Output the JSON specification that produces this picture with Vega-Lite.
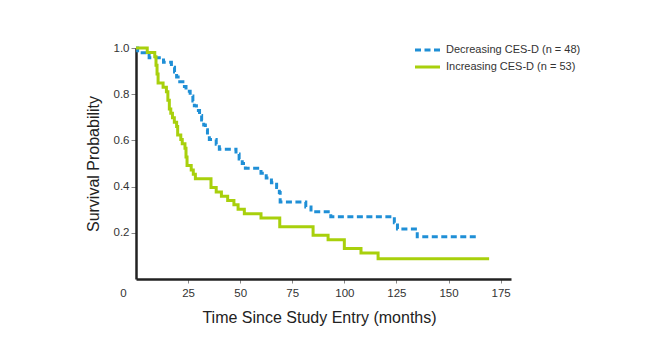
{
  "$schema": "https://vega.github.io/schema/vega-lite/v6.json",
  "width": 375,
  "height": 231,
  "autosize": "none",
  "padding": {"left": 136, "top": 48, "right": 145, "bottom": 83},
  "background": "white",
  "config": {
    "view": {"stroke": null},
    "font": "Liberation Sans",
    "axis": {"grid": false, "labelFont": "Liberation Sans", "titleFont": "Liberation Sans", "labelColor": "#333333", "titleColor": "#222222", "labelFontSize": 11.5, "titleFontSize": 16, "titleFontWeight": "normal", "domainColor": "#222222", "domainWidth": 2.5, "tickColor": "#888888", "tickWidth": 1}
  },
  "datasets": {
    "km": [
      {"series": "Decreasing CES-D (n = 48)", "t": 0, "s": 1.0},
      {"series": "Decreasing CES-D (n = 48)", "t": 0.8, "s": 0.979},
      {"series": "Decreasing CES-D (n = 48)", "t": 6.3, "s": 0.958},
      {"series": "Decreasing CES-D (n = 48)", "t": 13.2, "s": 0.938},
      {"series": "Decreasing CES-D (n = 48)", "t": 17.0, "s": 0.917},
      {"series": "Decreasing CES-D (n = 48)", "t": 18.5, "s": 0.896},
      {"series": "Decreasing CES-D (n = 48)", "t": 19.5, "s": 0.875},
      {"series": "Decreasing CES-D (n = 48)", "t": 21.0, "s": 0.854},
      {"series": "Decreasing CES-D (n = 48)", "t": 22.5, "s": 0.833},
      {"series": "Decreasing CES-D (n = 48)", "t": 24.0, "s": 0.813},
      {"series": "Decreasing CES-D (n = 48)", "t": 26.0, "s": 0.792},
      {"series": "Decreasing CES-D (n = 48)", "t": 27.3, "s": 0.771},
      {"series": "Decreasing CES-D (n = 48)", "t": 28.0, "s": 0.750},
      {"series": "Decreasing CES-D (n = 48)", "t": 29.0, "s": 0.729},
      {"series": "Decreasing CES-D (n = 48)", "t": 30.5, "s": 0.708},
      {"series": "Decreasing CES-D (n = 48)", "t": 31.5, "s": 0.688},
      {"series": "Decreasing CES-D (n = 48)", "t": 32.5, "s": 0.667},
      {"series": "Decreasing CES-D (n = 48)", "t": 33.3, "s": 0.646},
      {"series": "Decreasing CES-D (n = 48)", "t": 34.3, "s": 0.625},
      {"series": "Decreasing CES-D (n = 48)", "t": 35.2, "s": 0.604},
      {"series": "Decreasing CES-D (n = 48)", "t": 38.5, "s": 0.583},
      {"series": "Decreasing CES-D (n = 48)", "t": 40.0, "s": 0.562},
      {"series": "Decreasing CES-D (n = 48)", "t": 48.0, "s": 0.541},
      {"series": "Decreasing CES-D (n = 48)", "t": 49.5, "s": 0.520},
      {"series": "Decreasing CES-D (n = 48)", "t": 51.0, "s": 0.500},
      {"series": "Decreasing CES-D (n = 48)", "t": 52.5, "s": 0.479},
      {"series": "Decreasing CES-D (n = 48)", "t": 60.0, "s": 0.458},
      {"series": "Decreasing CES-D (n = 48)", "t": 62.5, "s": 0.437},
      {"series": "Decreasing CES-D (n = 48)", "t": 65.0, "s": 0.417},
      {"series": "Decreasing CES-D (n = 48)", "t": 67.5, "s": 0.396},
      {"series": "Decreasing CES-D (n = 48)", "t": 68.8, "s": 0.375},
      {"series": "Decreasing CES-D (n = 48)", "t": 69.2, "s": 0.333},
      {"series": "Decreasing CES-D (n = 48)", "t": 81.5, "s": 0.312},
      {"series": "Decreasing CES-D (n = 48)", "t": 84.0, "s": 0.291},
      {"series": "Decreasing CES-D (n = 48)", "t": 93.5, "s": 0.270},
      {"series": "Decreasing CES-D (n = 48)", "t": 124.0, "s": 0.243},
      {"series": "Decreasing CES-D (n = 48)", "t": 125.5, "s": 0.216},
      {"series": "Decreasing CES-D (n = 48)", "t": 135.0, "s": 0.183},
      {"series": "Decreasing CES-D (n = 48)", "t": 163.7, "s": 0.183},
      {"series": "Increasing CES-D (n = 53)", "t": 0, "s": 1.0},
      {"series": "Increasing CES-D (n = 53)", "t": 5.4, "s": 0.981},
      {"series": "Increasing CES-D (n = 53)", "t": 9.0, "s": 0.962},
      {"series": "Increasing CES-D (n = 53)", "t": 9.6, "s": 0.925},
      {"series": "Increasing CES-D (n = 53)", "t": 10.1, "s": 0.887},
      {"series": "Increasing CES-D (n = 53)", "t": 10.6, "s": 0.849},
      {"series": "Increasing CES-D (n = 53)", "t": 13.0, "s": 0.830},
      {"series": "Increasing CES-D (n = 53)", "t": 14.6, "s": 0.811},
      {"series": "Increasing CES-D (n = 53)", "t": 15.3, "s": 0.774},
      {"series": "Increasing CES-D (n = 53)", "t": 16.0, "s": 0.736},
      {"series": "Increasing CES-D (n = 53)", "t": 16.7, "s": 0.717},
      {"series": "Increasing CES-D (n = 53)", "t": 17.5, "s": 0.698},
      {"series": "Increasing CES-D (n = 53)", "t": 18.4, "s": 0.679},
      {"series": "Increasing CES-D (n = 53)", "t": 19.5, "s": 0.660},
      {"series": "Increasing CES-D (n = 53)", "t": 20.0, "s": 0.623},
      {"series": "Increasing CES-D (n = 53)", "t": 21.5, "s": 0.604},
      {"series": "Increasing CES-D (n = 53)", "t": 22.2, "s": 0.585},
      {"series": "Increasing CES-D (n = 53)", "t": 23.5, "s": 0.566},
      {"series": "Increasing CES-D (n = 53)", "t": 24.0, "s": 0.528},
      {"series": "Increasing CES-D (n = 53)", "t": 24.5, "s": 0.491},
      {"series": "Increasing CES-D (n = 53)", "t": 26.5, "s": 0.472},
      {"series": "Increasing CES-D (n = 53)", "t": 27.5, "s": 0.453},
      {"series": "Increasing CES-D (n = 53)", "t": 28.5, "s": 0.434},
      {"series": "Increasing CES-D (n = 53)", "t": 36.0, "s": 0.396},
      {"series": "Increasing CES-D (n = 53)", "t": 38.5, "s": 0.377},
      {"series": "Increasing CES-D (n = 53)", "t": 41.0, "s": 0.358},
      {"series": "Increasing CES-D (n = 53)", "t": 44.0, "s": 0.340},
      {"series": "Increasing CES-D (n = 53)", "t": 47.0, "s": 0.321},
      {"series": "Increasing CES-D (n = 53)", "t": 49.0, "s": 0.302},
      {"series": "Increasing CES-D (n = 53)", "t": 52.0, "s": 0.283},
      {"series": "Increasing CES-D (n = 53)", "t": 60.0, "s": 0.264},
      {"series": "Increasing CES-D (n = 53)", "t": 69.0, "s": 0.226},
      {"series": "Increasing CES-D (n = 53)", "t": 85.0, "s": 0.189},
      {"series": "Increasing CES-D (n = 53)", "t": 92.2, "s": 0.170},
      {"series": "Increasing CES-D (n = 53)", "t": 100.0, "s": 0.132},
      {"series": "Increasing CES-D (n = 53)", "t": 108.0, "s": 0.113},
      {"series": "Increasing CES-D (n = 53)", "t": 116.2, "s": 0.088},
      {"series": "Increasing CES-D (n = 53)", "t": 169.5, "s": 0.088}
    ]
  },
  "data": {"name": "km"},
  "mark": {"type": "line", "interpolate": "step-after", "strokeWidth": 3, "strokeCap": "butt", "clip": false},
  "encoding": {
    "x": {
      "field": "t", "type": "quantitative",
      "scale": {"domain": [0, 180], "nice": false, "zero": true},
      "axis": {
        "title": "Time Since Study Entry (months)",
        "titleX": 183,
        "values": [0, 25, 50, 75, 100, 125, 150, 175],
        "format": "d",
        "tickSize": 4,
        "labelPadding": 4,
        "titlePadding": 11,
        "labelFlush": false,
        "labelOffset": {"condition": {"test": "datum.value === 0", "value": -13}, "value": 0},
        "tickOpacity": {"condition": {"test": "datum.value === 0", "value": 0}, "value": 1}
      }
    },
    "y": {
      "field": "s", "type": "quantitative",
      "scale": {"domain": [0, 1], "nice": false},
      "axis": {
        "title": "Survival Probability",
        "values": [0.2, 0.4, 0.6, 0.8, 1.0],
        "format": ".1f",
        "tickSize": 5,
        "labelPadding": 2,
        "titlePadding": 12,
        "labelFlush": false
      }
    },
    "color": {
      "field": "series", "type": "nominal",
      "scale": {"domain": ["Decreasing CES-D (n = 48)", "Increasing CES-D (n = 53)"], "range": ["#1f8fd6", "#a8d00c"]},
      "legend": {
        "title": null,
        "orient": "none",
        "legendX": 285,
        "legendY": -4.5,
        "padding": 0,
        "symbolType": "M-2.5,0H2.5",
        "symbolSize": 100,
        "symbolStrokeWidth": 3,
        "labelFont": "Liberation Sans",
        "labelFontSize": 11,
        "labelColor": "#333333",
        "labelOffset": 12,
        "rowPadding": 4
      }
    },
    "strokeDash": {
      "field": "series", "type": "nominal",
      "scale": {"domain": ["Decreasing CES-D (n = 48)", "Increasing CES-D (n = 53)"], "range": [[6, 3.5], [1, 0]]},
      "legend": {"title": null}
    }
  }
}
